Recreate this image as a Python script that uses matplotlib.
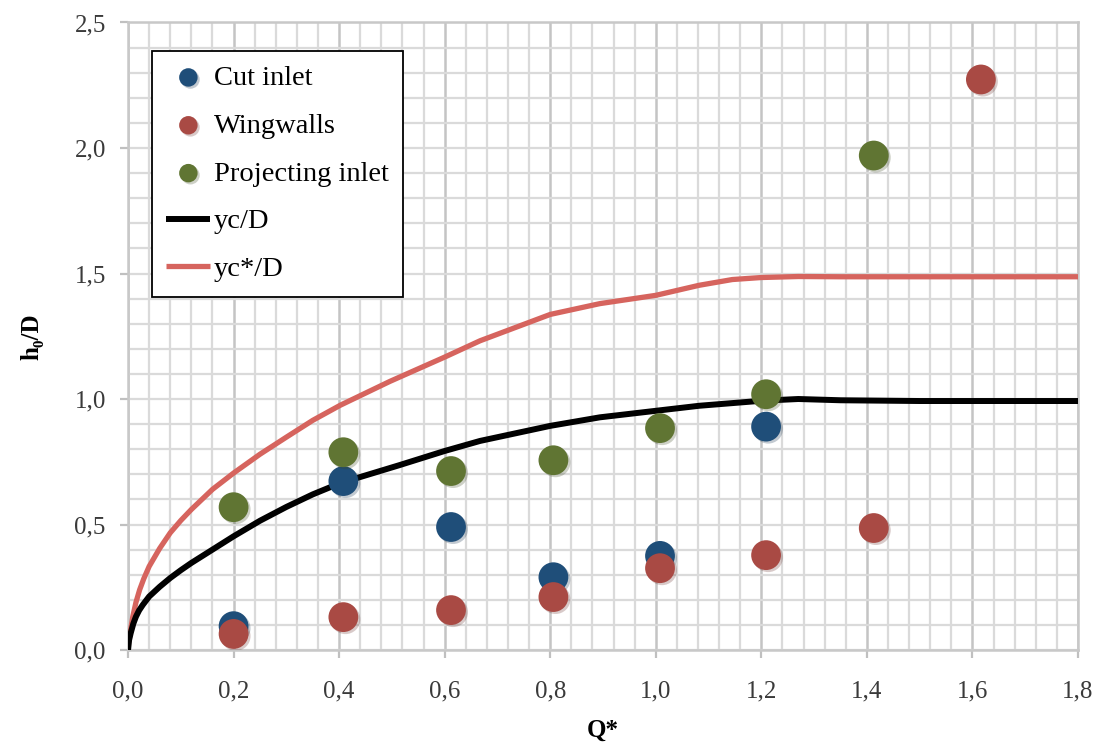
"""Head ratio h0/D vs Q* for three inlet types, with critical depth curves"""

import numpy as np
import matplotlib
matplotlib.use("Agg")
import matplotlib.pyplot as plt
import matplotlib.patheffects as pe
from matplotlib.ticker import MultipleLocator, FuncFormatter

# measured points
q_cut = [0.20, 0.408, 0.612, 0.806, 1.008, 1.209]
h_cut = [0.095, 0.673, 0.490, 0.290, 0.375, 0.890]

q_wing = [0.20, 0.408, 0.612, 0.806, 1.008, 1.209, 1.413, 1.616]
h_wing = [0.064, 0.131, 0.159, 0.211, 0.326, 0.378, 0.486, 2.273]

q_proj = [0.20, 0.408, 0.612, 0.806, 1.008, 1.209, 1.413]
h_proj = [0.569, 0.788, 0.713, 0.756, 0.884, 1.019, 1.970]

# critical depth curves
q_yc = [0.0, 0.002, 0.005, 0.01, 0.015, 0.021, 0.028, 0.04, 0.06, 0.08, 0.10, 0.12,
        0.16, 0.20, 0.25, 0.30, 0.35, 0.402, 0.515, 0.60, 0.667, 0.80, 0.894, 1.00,
        1.082, 1.20, 1.27, 1.35, 1.50, 1.80]
h_yc = [0.0, 0.040, 0.067, 0.105, 0.133, 0.158, 0.180, 0.213, 0.252, 0.287, 0.318, 0.347,
        0.400, 0.453, 0.515, 0.570, 0.620, 0.665, 0.737, 0.793, 0.833, 0.893, 0.927, 0.953,
        0.973, 0.993, 1.000, 0.995, 0.992, 0.992]

q_ycs = [0.0, 0.001, 0.003, 0.006, 0.009, 0.015, 0.022, 0.03, 0.04, 0.06, 0.08, 0.10,
         0.12, 0.16, 0.20, 0.25, 0.30, 0.35, 0.402, 0.496, 0.60, 0.667, 0.80, 0.894,
         1.00, 1.082, 1.145, 1.20, 1.27, 1.35, 1.50, 1.80]
h_ycs = [0.0, 0.030, 0.053, 0.095, 0.133, 0.190, 0.240, 0.285, 0.333, 0.405, 0.467, 0.516,
         0.560, 0.640, 0.705, 0.780, 0.848, 0.915, 0.975, 1.070, 1.167, 1.232, 1.337, 1.380,
         1.413, 1.453, 1.476, 1.484, 1.488, 1.487, 1.487, 1.487]

BLUE = "#1f4e79"
RED = "#a94a44"
GREEN = "#607533"
PINK = "#d6645e"

serif = ["Liberation Serif", "DejaVu Serif"]
plt.rcParams["font.family"] = serif

fig = plt.figure(figsize=(11, 7.45), dpi=100)
ax = fig.add_axes([0.1164, 0.1275, 0.8636, 0.8423])

ax.plot(q_ycs, h_ycs, color=PINK, lw=3.8, zorder=3, label="yc*/D",
        solid_joinstyle="round", solid_capstyle="butt")
ax.plot(q_yc, h_yc, color="black", lw=4.3, zorder=3, label="yc/D",
        solid_joinstyle="round", solid_capstyle="butt")

shadow = [pe.SimplePatchShadow(offset=(1.5, -1.5), alpha=0.25, rho=0.6), pe.Normal()]
s_cut = ax.scatter(q_cut, h_cut, s=460, color=BLUE, zorder=4, label="Cut inlet",
                   path_effects=shadow, linewidths=0)
s_wing = ax.scatter(q_wing, h_wing, s=460, color=RED, zorder=5, label="Wingwalls",
                    path_effects=shadow, linewidths=0)
s_proj = ax.scatter(q_proj, h_proj, s=460, color=GREEN, zorder=4, label="Projecting inlet",
                    path_effects=shadow, linewidths=0)

ax.set_xlim(0, 1.8)
ax.set_ylim(0, 2.5)
ax.xaxis.set_major_locator(MultipleLocator(0.2))
ax.xaxis.set_minor_locator(MultipleLocator(0.04))
ax.yaxis.set_major_locator(MultipleLocator(0.5))
ax.yaxis.set_minor_locator(MultipleLocator(0.1))
fmt = FuncFormatter(lambda v, p: f"{v:.1f}".replace(".", ","))
ax.xaxis.set_major_formatter(fmt)
ax.yaxis.set_major_formatter(fmt)

ax.grid(which="minor", color="#dadada", lw=1.6, zorder=0)
ax.grid(which="major", axis="y", color="#dadada", lw=1.6, zorder=0)
ax.grid(which="major", axis="x", color="#c4c4c4", lw=1.8, zorder=0)
ax.set_axisbelow(True)
for sp in ax.spines.values():
    sp.set_color("#c8c8c8")
    sp.set_linewidth(1.8)

ax.tick_params(which="major", direction="out", length=6, width=1.6, color="#c0c0c0",
               labelsize=18, labelcolor="#3a3a3a")
ax.tick_params(axis="x", which="major", pad=16)
ax.tick_params(axis="y", which="major", pad=10)
ax.tick_params(which="minor", length=0)

ax.set_xlabel("Q*", fontsize=18, fontweight="bold", labelpad=12)
ax.set_ylabel("h₀/D", fontsize=18, fontweight="bold", labelpad=22)

line_ycs, line_yc = ax.get_lines()
leg = ax.legend(handles=[s_cut, s_wing, s_proj, line_yc, line_ycs],
                loc="upper left", bbox_to_anchor=(0.0253, 0.955), borderaxespad=0,
                fontsize=20.5, frameon=True, fancybox=False, framealpha=1,
                edgecolor="black", markerscale=0.62, handlelength=1.55,
                handletextpad=0.12, labelspacing=0.77, borderpad=0.5,
                scatterpoints=1)
leg.get_frame().set_linewidth(1.3)
leg.set_zorder(6)

fig.savefig("out.png", dpi=100)
